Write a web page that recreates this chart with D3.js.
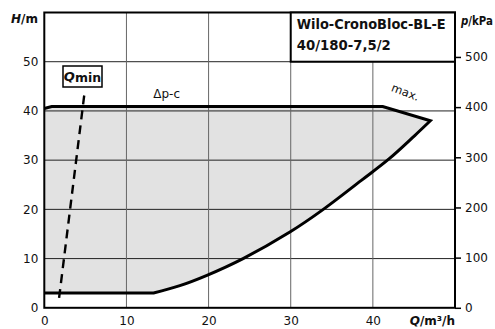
<!DOCTYPE html>
<html>
<head>
<meta charset="utf-8">
<script src="https://cdn.jsdelivr.net/npm/d3@7"></script>
<style>
  html, body { margin: 0; padding: 0; background: #fff; }
  svg { display: block; }
  text { font-family: "DejaVu Sans", sans-serif; fill: #111; }
</style>
</head>
<body>
<svg id="chart" width="495" height="329"></svg>
<script>
// Pump duty field: flow Q (m³/h) vs head H (m)
const qTicks = [0, 10, 20, 30, 40];
const hTicks = [0, 10, 20, 30, 40, 50];
const kpaTicks = [0, 100, 200, 300, 400, 500];

// Minimum head line (bottom of field)
const minLineQ = [0, 13.3];
const minLineH = [3.0, 3.0];

// Max speed curve, from the bottom kink up to the top-right corner
const maxCurveQ = [13.3, 16.5, 19.8, 24.2, 29.9, 33.8, 38.6, 42.0, 45.1, 47.0];
const maxCurveH = [3.0, 4.5, 6.6, 10.0, 15.4, 19.8, 25.9, 30.3, 35.0, 38.0];

// Δp-c control line along the top, back to the left axis
const topLineQ = [47.0, 41.2, 0.9, 0];
const topLineH = [38.0, 40.9, 40.9, 40.5];

// Q_min marker
const qminQ = [1.8, 4.9];
const qminH = [2.0, 43.7];

const svg = d3.select("#chart");
const padL = 44.3, padR = 455, padT = 12.5, padB = 307.8;

const x = d3.scaleLinear().domain([0, 50]).range([padL, padR]);
const y = d3.scaleLinear().domain([0, 60]).range([padB, padT]);
const yKpa = d3.scaleLinear().domain([0, 60 * 9.81]).range([padB, padT]);

const zip = (qs, hs) => qs.map((q, i) => [q, hs[i]]);
const straight = d3.line().x(d => x(d[0])).y(d => y(d[1]));
const smooth = d3.line().x(d => x(d[0])).y(d => y(d[1])).curve(d3.curveCatmullRom.alpha(0.5));

const bottomPts = zip(minLineQ, minLineH);
const curvePts = zip(maxCurveQ, maxCurveH);
const topPts = zip(topLineQ, topLineH);

const outline = straight(bottomPts) +
  smooth(curvePts).replace(/^M/, "L") +
  straight(topPts).replace(/^M/, "L");

// shaded field
svg.append("path")
  .attr("d", outline + "Z")
  .attr("fill", "#e2e2e2")
  .attr("stroke", "none");

// grid
svg.append("g").selectAll("line")
  .data(hTicks.filter(v => v > 0))
  .join("line")
  .attr("x1", padL).attr("x2", padR)
  .attr("y1", d => y(d)).attr("y2", d => y(d))
  .attr("stroke", "#222").attr("stroke-width", 1);

svg.append("g").selectAll("line")
  .data(qTicks.filter(v => v > 0))
  .join("line")
  .attr("x1", d => x(d)).attr("x2", d => x(d))
  .attr("y1", padT).attr("y2", padB)
  .attr("stroke", "#666").attr("stroke-width", 1);

// field outline
svg.append("path")
  .attr("d", outline)
  .attr("fill", "none")
  .attr("stroke", "#000")
  .attr("stroke-width", 3)
  .attr("stroke-linejoin", "miter");

// Q_min dashed line
svg.append("path")
  .attr("d", straight(zip(qminQ, qminH)))
  .attr("fill", "none")
  .attr("stroke", "#000")
  .attr("stroke-width", 2.4)
  .attr("stroke-dasharray", "9,6");

// frame
svg.append("rect")
  .attr("x", padL).attr("y", padT)
  .attr("width", padR - padL).attr("height", padB - padT)
  .attr("fill", "none").attr("stroke", "#000").attr("stroke-width", 2);

// left axis (H)
const axL = svg.append("g").attr("transform", `translate(${padL},0)`)
  .call(d3.axisLeft(y).tickValues(hTicks).tickSize(0).tickPadding(6));
axL.select(".domain").remove();
axL.selectAll("text").attr("font-size", 12).attr("font-family", "DejaVu Sans").attr("fill", "#222");

// bottom axis (Q)
const axB = svg.append("g").attr("transform", `translate(0,${padB})`)
  .call(d3.axisBottom(x).tickValues(qTicks).tickSize(0).tickPadding(9));
axB.select(".domain").remove();
axB.selectAll("text").attr("font-size", 12).attr("font-family", "DejaVu Sans").attr("fill", "#222");

// right axis (p)
const axR = svg.append("g").attr("transform", `translate(${padR},0)`)
  .call(d3.axisRight(yKpa).tickValues(kpaTicks).tickSize(6).tickPadding(4));
axR.select(".domain").remove();
axR.selectAll("line").attr("stroke", "#000").attr("stroke-width", 1.5);
axR.selectAll("text").attr("font-size", 12).attr("font-family", "DejaVu Sans").attr("fill", "#222");

// axis titles
const titleFont = "Open Sans";
const hTitle = svg.append("text").attr("x", 38).attr("y", 23)
  .attr("text-anchor", "end").attr("font-family", titleFont)
  .attr("font-size", 12).attr("font-weight", "bold");
hTitle.append("tspan").attr("font-style", "italic").text("H");
hTitle.append("tspan").text("/m");

const pTitle = svg.append("text").attr("x", 461).attr("y", 25)
  .attr("font-family", titleFont).attr("font-size", 11.5).attr("font-weight", "bold")
  .attr("textLength", 32).attr("lengthAdjust", "spacingAndGlyphs");
pTitle.append("tspan").attr("font-style", "italic").text("p");
pTitle.append("tspan").text("/kPa");

const qTitle = svg.append("text").attr("x", 455).attr("y", 325)
  .attr("text-anchor", "end").attr("font-family", titleFont)
  .attr("font-size", 12).attr("font-weight", "bold");
qTitle.append("tspan").attr("font-style", "italic").text("Q");
qTitle.append("tspan").text("/m³/h");

// pump name box
svg.append("rect")
  .attr("x", x(30)).attr("y", padT)
  .attr("width", padR - x(30)).attr("height", y(50) - padT)
  .attr("fill", "#fff").attr("stroke", "#000").attr("stroke-width", 2);
svg.append("text").attr("x", x(30) + 6).attr("y", 28.5)
  .attr("font-family", titleFont).attr("font-weight", "bold").attr("font-size", 14)
  .attr("textLength", 149).attr("lengthAdjust", "spacingAndGlyphs")
  .text("Wilo-CronoBloc-BL-E");
svg.append("text").attr("x", x(30) + 6).attr("y", 50)
  .attr("font-family", titleFont).attr("font-weight", "bold").attr("font-size", 14)
  .attr("textLength", 94).attr("lengthAdjust", "spacingAndGlyphs")
  .text("40/180-7,5/2");

// Q_min label box
svg.append("rect")
  .attr("x", 63).attr("y", 66).attr("width", 39).attr("height", 21)
  .attr("fill", "#fff").attr("stroke", "#000").attr("stroke-width", 1.5);
const qminLabel = svg.append("text").attr("x", 82.5).attr("y", 81)
  .attr("text-anchor", "middle").attr("font-family", titleFont)
  .attr("font-size", 13).attr("font-weight", "bold");
qminLabel.append("tspan").attr("font-style", "italic").text("Q");
qminLabel.append("tspan").attr("font-size", 12.5).attr("dy", 1).text("min");

// curve annotations
svg.append("text").attr("x", x(14.9)).attr("y", 97.5)
  .attr("text-anchor", "middle").attr("font-size", 12).text("Δp-c");
svg.append("text")
  .attr("transform", "translate(404,96) rotate(21)")
  .attr("text-anchor", "middle").attr("font-size", 11.5).text("max.");
</script>
</body>
</html>
